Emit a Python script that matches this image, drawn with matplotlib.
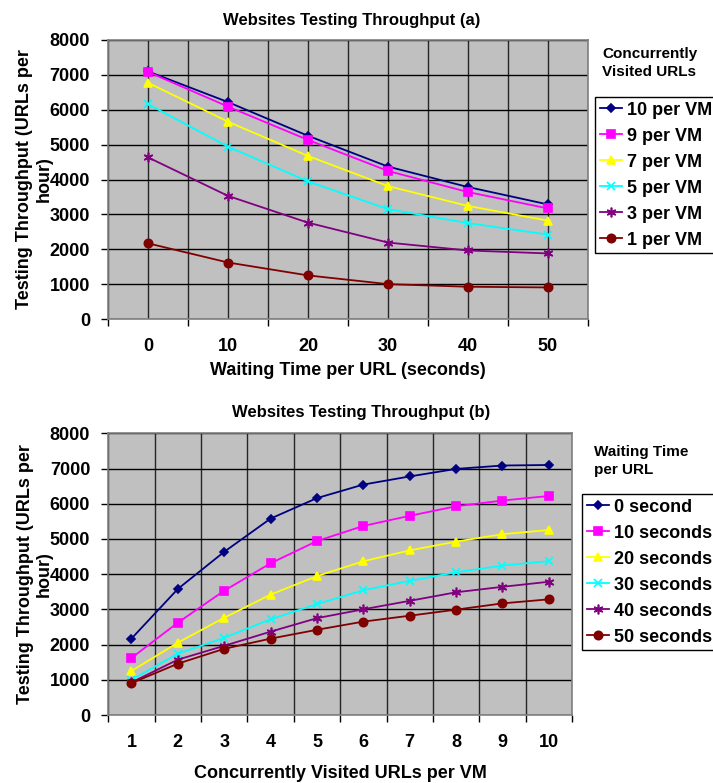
import matplotlib

matplotlib.use("Agg")
import matplotlib.pyplot as plt
from matplotlib.ticker import NullFormatter

plt.rcParams["font.family"] = ["Liberation Sans", "DejaVu Sans"]
plt.rcParams["font.weight"] = "bold"

# throughput (URLs per hour) for 1..10 concurrently visited URLs per VM
vms_per_vm = [1, 2, 3, 4, 5, 6, 7, 8, 9, 10]
wait_times = [0, 10, 20, 30, 40, 50]
wait_0 = [2170, 3580, 4635, 5578, 6160, 6544, 6775, 6989, 7085, 7100]
wait_10 = [1620, 2623, 3530, 4309, 4940, 5369, 5657, 5928, 6090, 6220]
wait_20 = [1250, 2055, 2762, 3419, 3945, 4366, 4675, 4924, 5135, 5253]
wait_30 = [1000, 1742, 2192, 2718, 3150, 3542, 3810, 4053, 4245, 4370]
wait_40 = [925, 1572, 1965, 2367, 2750, 3002, 3242, 3485, 3640, 3784]
wait_50 = [905, 1458, 1880, 2169, 2420, 2652, 2820, 2992, 3170, 3285]

wait_series = [wait_0, wait_10, wait_20, wait_30, wait_40, wait_50]
wait_labels = ["0 second", "10 seconds", "20 seconds", "30 seconds", "40 seconds", "50 seconds"]
vm_subset = [10, 9, 7, 5, 3, 1]
vm_labels = ["10 per VM", "9 per VM", "7 per VM", "5 per VM", "3 per VM", "1 per VM"]

colors = ["#000080", "#FF00FF", "#FFFF00", "#00FFFF", "#800080", "#800000"]
markers = ["D", "s", "^", "x", (6, 2, 0), "o"]
msizes = [4, 6, 6, 6, 7, 6]

TICK_FS = 13
LABEL_FS = 13
LEGEND_KW = dict(loc="upper left", borderaxespad=0, prop={"weight": "bold", "size": 13},
                 frameon=True, fancybox=False, edgecolor="black", framealpha=1,
                 handlelength=1.25, handletextpad=0.25, labelspacing=0.5, borderpad=0.25)


def style_axes(ax, n_cat):
    ax.set_facecolor("#C0C0C0")
    for sp in ax.spines.values():
        sp.set_color("#808080")
        sp.set_linewidth(1.2)
    ax.set_ylim(0, 8000)
    ax.set_yticks(range(0, 8001, 1000))
    ax.set_xlim(-0.5, n_cat - 0.5)
    ax.set_xticks([i - 0.5 for i in range(n_cat + 1)])
    ax.xaxis.set_major_formatter(NullFormatter())
    ax.tick_params(axis="both", which="major", direction="out", length=5, width=1, color="#000000")
    ax.tick_params(axis="y", labelsize=TICK_FS, pad=8)
    ax.tick_params(axis="x", which="minor", length=0, labelsize=TICK_FS, pad=14)
    ax.grid(axis="y", color="black", linewidth=1)
    ax.set_axisbelow(True)


fig = plt.figure(figsize=(7.13, 7.83), dpi=100)

# ---- (a) throughput vs waiting time
ax1 = fig.add_axes([108 / 713, 464 / 783, 480 / 713, 279 / 783])
style_axes(ax1, len(wait_times))
ax1.set_xticks(range(len(wait_times)), [str(w) for w in wait_times], minor=True)
ax1.grid(axis="x", which="both", color="black", linewidth=1, alpha=0.8)
for vm, lab, c, m, ms in zip(vm_subset, vm_labels, colors, markers, msizes):
    ys = [s[vm - 1] for s in wait_series]
    ax1.plot(range(len(wait_times)), ys, color=c, marker=m, markersize=ms,
             linewidth=1.3, label=lab, markeredgewidth=1.2)
ax1.set_xlabel("Waiting Time per URL (seconds)", fontsize=LABEL_FS, fontweight="bold", labelpad=5)
ax1.set_ylabel("Testing Throughput (URLs per\nhour)", fontsize=LABEL_FS, fontweight="bold")
ax1.yaxis.set_label_coords(-0.115, 0.5)
fig.text(352 / 713, 1 - 20 / 783, "Websites Testing Throughput (a)", ha="center", va="center",
         fontsize=12, fontweight="bold")
fig.text(602 / 713, 1 - 63 / 783, "Concurrently\nVisited URLs", ha="left", va="center",
         fontsize=11, fontweight="bold", linespacing=1.3)
fig.legend(*ax1.get_legend_handles_labels(),
           bbox_to_anchor=(595 / 713, 1 - 97 / 783), bbox_transform=fig.transFigure, **LEGEND_KW)

# ---- (b) throughput vs concurrently visited URLs
ax2 = fig.add_axes([108.3 / 713, 68 / 783, 463.7 / 713, 281.7 / 783])
style_axes(ax2, len(vms_per_vm))
ax2.set_xticks(range(len(vms_per_vm)), [str(v) for v in vms_per_vm], minor=True)
ax2.grid(axis="x", which="major", color="black", linewidth=1, alpha=0.8)
for ys, lab, c, m, ms in zip(wait_series, wait_labels, colors, markers, msizes):
    ax2.plot(range(len(vms_per_vm)), ys, color=c, marker=m, markersize=ms,
             linewidth=1.3, label=lab, markeredgewidth=1.2)
ax2.set_xlabel("Concurrently Visited URLs per VM", fontsize=LABEL_FS, fontweight="bold", labelpad=9.5)
ax2.set_ylabel("Testing Throughput (URLs per\nhour)", fontsize=LABEL_FS, fontweight="bold")
ax2.yaxis.set_label_coords(-0.119, 0.5)
fig.text(361 / 713, 1 - 412 / 783, "Websites Testing Throughput (b)", ha="center", va="center",
         fontsize=12, fontweight="bold")
fig.text(594 / 713, 1 - 461 / 783, "Waiting Time\nper URL", ha="left", va="center",
         fontsize=11, fontweight="bold", linespacing=1.3)
fig.legend(*ax2.get_legend_handles_labels(),
           bbox_to_anchor=(582 / 713, 1 - 494 / 783), bbox_transform=fig.transFigure, **LEGEND_KW)

fig.savefig("out.png", dpi=100)
